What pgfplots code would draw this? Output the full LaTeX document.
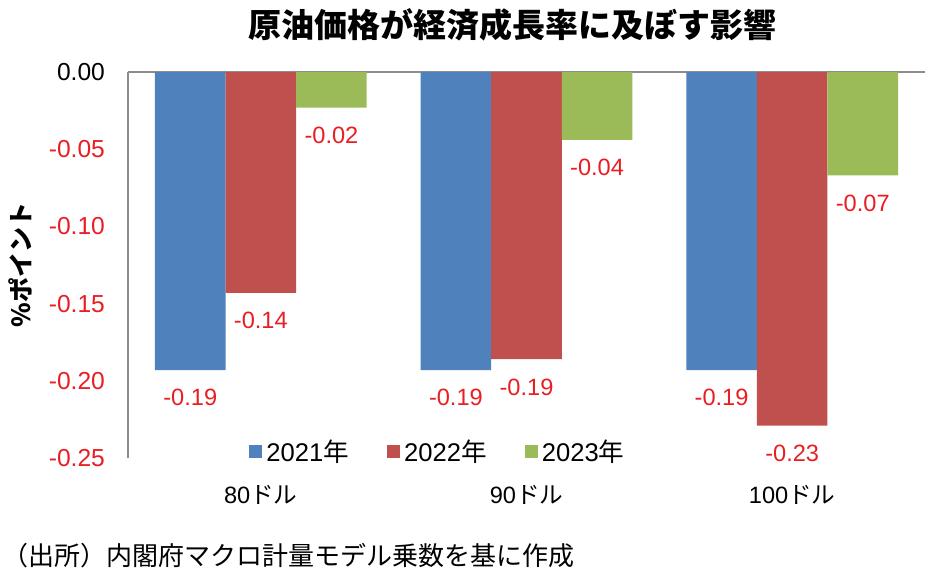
\documentclass[border=0pt]{standalone}
\usepackage{pgfplots}
\pgfplotsset{compat=1.18}
\usepackage{fontspec}
\setmainfont{Liberation Sans}
\newfontfamily\jp{Noto Sans CJK JP}
\definecolor{cblue}{HTML}{4F81BD}
\definecolor{cred}{HTML}{C0504D}
\definecolor{cgreen}{HTML}{9BBB59}
\definecolor{lred}{RGB}{232,30,35}
\begin{document}
\begin{tikzpicture}
\useasboundingbox (0,0) rectangle (476pt,293pt);
\begin{axis}[
  at={(64pt,64pt)}, anchor=south west,
  scale only axis, width=398.5pt, height=193pt,
  ybar=0pt, bar width=35.3pt,
  xmin=-0.5, xmax=2.5, ymin=-0.25, ymax=0,
  axis x line*=bottom, axis y line*=left,
  x axis line style={draw=none},
  y axis line style={draw=gray!90, line width=0.9pt},
  tick style={draw=none},
  xtick={0,1,2},
  xticklabels={80{\jp ドル},90{\jp ドル},100{\jp ドル}},
  xticklabel style={font=\fontsize{11.8}{13}\selectfont, yshift=-6pt},
  ytick={-0.25,-0.20,-0.15,-0.10,-0.05,0},
  yticklabels={{\color{lred}-0.25},{\color{lred}-0.20},{\color{lred}-0.15},{\color{lred}-0.10},{\color{lred}-0.05},0.00},
  yticklabel style={font=\fontsize{12.3}{13}\selectfont, xshift=-8pt},
  extra y ticks={0}, extra y tick labels={},
  extra y tick style={grid=major, major grid style={draw=gray!90, line width=0.9pt}},
  nodes near coords,
  nodes near coords align={vertical},
  point meta=y,
  every node near coord/.append style={font=\fontsize{11.8}{13}\selectfont, color=lred, anchor=north, inner sep=2pt, yshift=-7.5pt,
    /pgf/number format/fixed, /pgf/number format/fixed zerofill, /pgf/number format/precision=2, /pgf/number format/assume math mode=true},
  legend style={at={(0.39,0.016)}, anchor=center, draw=none, fill=none,
    legend columns=3, font=\fontsize{12.8}{14}\selectfont,
    /tikz/every even column/.append style={column sep=17pt}},
  legend image code/.code={\fill[#1] (0pt,-3.3pt) rectangle (6.6pt,3.3pt);},
]
\addplot[fill=cblue, draw=none] coordinates {(0,-0.193) (1,-0.193) (2,-0.193)};
\addplot[fill=cred, draw=none] coordinates {(0,-0.143) (1,-0.186) (2,-0.229)};
\addplot[fill=cgreen, draw=none] coordinates {(0,-0.023) (1,-0.044) (2,-0.067)};
\legend{2021{\jp 年},2022{\jp 年},2023{\jp 年}}
\end{axis}
\node[font=\jp\bfseries\fontsize{16.5}{18}\selectfont] at (256pt,280.5pt) {原油価格が経済成長率に及ぼす影響};
\node[font=\jp\bfseries\fontsize{12.5}{14}\selectfont, rotate=90] at (10pt,160.5pt) {\%ポイント};
\node[font=\jp\fontsize{13}{14}\selectfont, anchor=west, inner sep=0pt] at (1pt,15pt) {（出所）内閣府マクロ計量モデル乗数を基に作成};
\end{tikzpicture}
\end{document}
